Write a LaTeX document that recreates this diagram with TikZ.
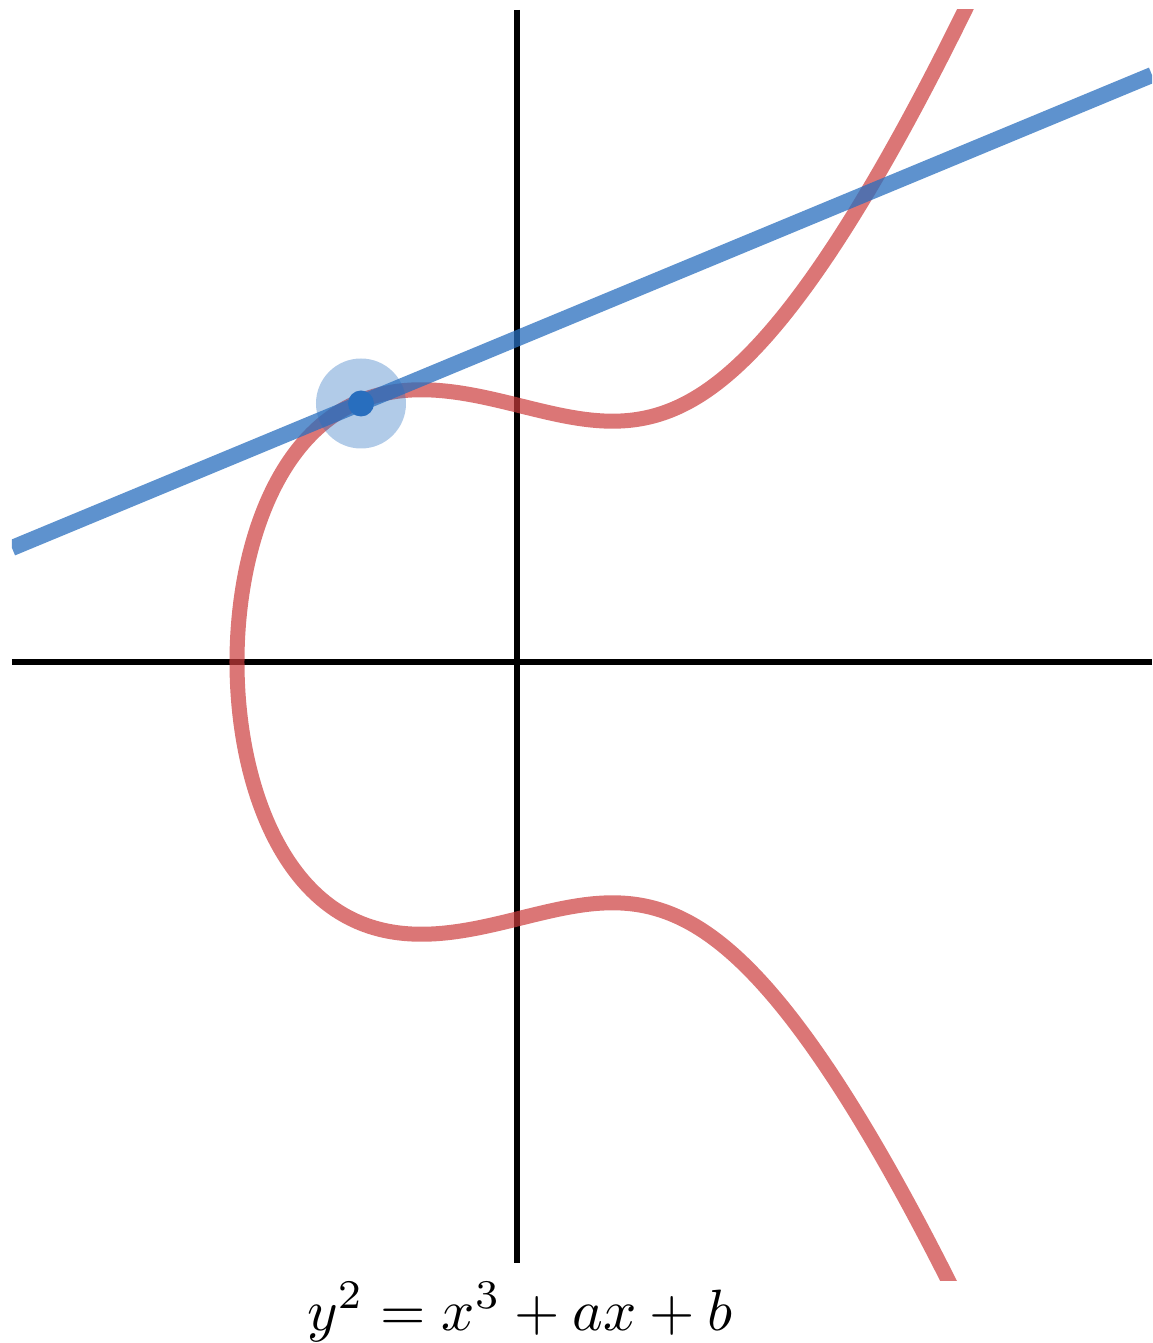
\documentclass[tikz,border=0pt]{standalone}
\definecolor{curvered}{RGB}{204,60,60}
\definecolor{lineblue}{RGB}{40,110,190}
\tikzset{
  axis/.style={line width=6pt, black},
  curvestyle/.style={line width=15pt, curvered, draw opacity=0.7},
  linestyle/.style={line width=16pt, lineblue, draw opacity=0.75},
  halo/.style={circle, fill=lineblue, fill opacity=0.36, minimum size=90pt, inner sep=0pt},
  dotstyle/.style={circle, fill=lineblue, minimum size=26pt, inner sep=0pt}
}
\begin{document}
\begin{tikzpicture}[x=100pt, y=100pt]
\useasboundingbox (-5.17,6.62) rectangle (6.35,-6.81);
\coordinate (L) at (-5.05,1.14);
\coordinate (R) at (6.35,5.87);
\coordinate (yt) at (0,6.52);
\coordinate (yb) at (0,-6.01);
\coordinate (xl) at (-5.05,0);
\coordinate (xr) at (6.35,0);
\begin{scope}
\clip (-5.05,6.52) rectangle (6.35,-6.18);
\draw[axis] (yt) -- (yb);
\draw[axis] (xl) -- (xr);
\draw[curvestyle] plot[domain=-2.72:2.72, samples=300, smooth, variable=\t]
  ({-2.8+\t*\t},{\t*sqrt(0.4624*((-2.8+\t*\t)*(-5.6+\t*\t)+5.1014))});
\draw[linestyle] (L) -- (R);
\node[halo] (P) at (-1.56,2.585) {};
\node[dotstyle] (Pdot) at (P) {};
\end{scope}
\node[anchor=base, scale=5.83] (eq) at (0.03,-6.68) {$y^2 = x^3 + ax + b$};
\end{tikzpicture}
\end{document}
